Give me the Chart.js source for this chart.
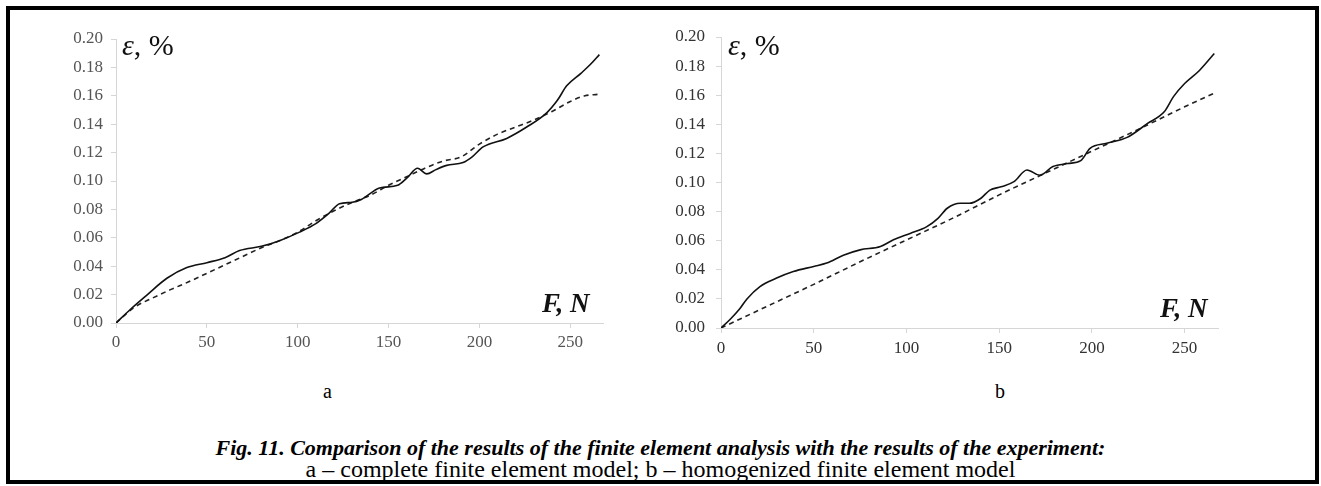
<!DOCTYPE html>
<html>
<head>
<meta charset="utf-8">
<script src="https://cdn.jsdelivr.net/npm/chart.js@4.4.1/dist/chart.umd.min.js"></script>
<style>
  html, body { margin: 0; padding: 0; background: #fff; }
  #page { position: relative; width: 1321px; height: 486px; overflow: hidden; font-family: 'Liberation Serif', 'Times New Roman', serif; }
  #frame { position: absolute; left: 6px; top: 6px; width: 1305px; height: 470px; border: 4px solid #000; }
  .plot { position: absolute; top: 0; }
  .lbl { position: absolute; line-height: 1; white-space: nowrap; color: #111; }
  .eps { font-size: 30px; }
  .force { font-size: 27px; font-weight: bold; font-style: italic; }
  .sub { font-size: 20px; color: #000; }
  .cap { position: absolute; left: 0; width: 1321px; text-align: center; line-height: 1; color: #000; }
</style>
</head>
<body>
<div id="page">
  <div id="frame"></div>
  <canvas id="chartA" class="plot" style="left:0px" width="660" height="380"></canvas>
  <canvas id="chartB" class="plot" style="left:660px" width="661" height="380"></canvas>

  <div class="lbl eps" style="left:122px; top:30px"><i>ε</i>, %</div>
  <div class="lbl eps" style="left:728px; top:30px"><i>ε</i>, %</div>
  <div class="lbl force" style="left:542px; top:290px">F, N</div>
  <div class="lbl force" style="left:1160px; top:295px">F, N</div>

  <div class="lbl sub" style="left:323px; top:381px">a</div>
  <div class="lbl sub" style="left:995px; top:381px">b</div>

  <div class="cap" style="top:437px; font-size:22px"><b><i>Fig. 11. Comparison of the results of the finite element analysis with the results of the experiment:</i></b></div>
  <div class="cap" style="top:457px; font-size:24px">a – complete finite element model; b – homogenized finite element model</div>
</div>

<script>
// ==============================
// Data
// ==============================
// a - complete finite element model
const solidA_F = [0, 8, 17, 28, 39, 50, 60, 68, 80, 90, 101, 110, 117, 123, 130, 135, 145, 155, 160, 166, 171, 176, 182, 191, 196, 202, 215, 226, 237, 243, 248, 256, 261, 266];
const solidA_e = [0, 0.0097, 0.0197, 0.0315, 0.039, 0.0425, 0.046, 0.051, 0.054, 0.058, 0.064, 0.070, 0.077, 0.084, 0.085, 0.087, 0.095, 0.097, 0.102, 0.109, 0.105, 0.108, 0.111, 0.113, 0.117, 0.124, 0.130, 0.138, 0.148, 0.157, 0.167, 0.176, 0.182, 0.189];
const dashA_F = [0, 10, 20, 30, 40, 50, 60, 70, 80, 90, 100, 110, 120, 130, 140, 150, 160, 170, 180, 190, 200, 210, 220, 230, 240, 250, 258, 265];
const dashA_e = [0, 0.011, 0.0175, 0.0235, 0.029, 0.035, 0.041, 0.047, 0.053, 0.058, 0.064, 0.072, 0.079, 0.085, 0.090, 0.097, 0.103, 0.109, 0.114, 0.117, 0.126, 0.133, 0.138, 0.143, 0.149, 0.156, 0.160, 0.161];

// b - homogenized finite element model
const solidB_F = [0, 5, 10, 14, 21, 30, 39, 50, 57, 66, 75, 86, 93, 102, 111, 117, 122, 129, 134, 140, 145, 151, 158, 165, 172, 179, 187, 194, 199, 208, 219, 230, 239, 244, 250, 258, 266];
const solidB_e = [0, 0.006, 0.013, 0.020, 0.0285, 0.0343, 0.0388, 0.0423, 0.0446, 0.050, 0.0537, 0.056, 0.0606, 0.065, 0.0697, 0.0754, 0.0823, 0.0857, 0.0857, 0.089, 0.0948, 0.097, 0.1006, 0.1086, 0.105, 0.111, 0.113, 0.115, 0.1235, 0.127, 0.131, 0.1406, 0.1486, 0.159, 0.168, 0.177, 0.1886];
const dashB_F = [0, 25, 50, 75, 100, 125, 150, 175, 200, 225, 250, 267];
const dashB_e = [0, 0.015, 0.030, 0.0455, 0.0605, 0.0755, 0.0915, 0.1065, 0.1215, 0.1365, 0.152, 0.162];

// axis ranges
const xMin = 0, xMax = 268, xStep = 50;
const yMin = 0, yMax = 0.20, yStep = 0.02;

// ==============================
// Helper
// ==============================
function toPoints(xs, ys) {
    return xs.map((x, i) => ({ x: x, y: ys[i] }));
}

function makeChart(id, solid, dashed, opt) {
    const ctx = document.getElementById(id).getContext('2d');
    return new Chart(ctx, {
        type: 'line',
        data: {
            datasets: [
                {
                    label: 'experiment',
                    data: solid,
                    borderColor: '#111',
                    borderWidth: 1.6,
                    pointRadius: 0,
                    tension: 0.4,
                    cubicInterpolationMode: 'monotone'
                },
                {
                    label: 'FEA',
                    data: dashed,
                    borderColor: '#222',
                    borderWidth: 1.6,
                    borderDash: [5, 4],
                    pointRadius: 0,
                    tension: 0.4,
                    cubicInterpolationMode: 'monotone'
                }
            ]
        },
        options: {
            responsive: false,
            animation: false,
            events: [],
            layout: { padding: opt.padding },
            plugins: { legend: { display: false }, tooltip: { enabled: false } },
            scales: {
                x: {
                    type: 'linear',
                    min: xMin, max: xMax,
                    border: { display: true, color: '#d6d6d6', width: 1 },
                    grid: { drawOnChartArea: false, drawTicks: true, tickLength: 5, tickColor: '#d6d6d6' },
                    ticks: {
                        stepSize: xStep,
                        includeBounds: false,
                        padding: opt.xPad,
                        color: opt.tickColor,
                        font: { family: "'Liberation Serif', 'Times New Roman', serif", size: 17 },
                        maxRotation: 0
                    },
                    afterFit: s => { s.height = 30; }
                },
                y: {
                    type: 'linear',
                    min: yMin, max: yMax,
                    border: { display: true, color: '#d6d6d6', width: 1 },
                    grid: { drawOnChartArea: false, drawTicks: true, tickLength: 5, tickColor: '#d6d6d6' },
                    ticks: {
                        stepSize: yStep,
                        padding: opt.yPad,
                        color: opt.tickColor,
                        font: { family: "'Liberation Serif', 'Times New Roman', serif", size: 17 },
                        callback: v => v.toFixed(2)
                    },
                    afterFit: s => { s.width = opt.yWidth; }
                }
            }
        }
    });
}

// ==============================
// Init
// ==============================
makeChart('chartA', toPoints(solidA_F, solidA_e), toPoints(dashA_F, dashA_e), {
    padding: { left: 0, top: 39, right: 57, bottom: 27 },
    yWidth: 116, xPad: 4, yPad: 8, tickColor: '#555'
});
makeChart('chartB', toPoints(solidB_F, solidB_e), toPoints(dashB_F, dashB_e), {
    padding: { left: 0, top: 37, right: 103, bottom: 22 },
    yWidth: 61, xPad: 5, yPad: 11, tickColor: '#333'
});
</script>
</body>
</html>
